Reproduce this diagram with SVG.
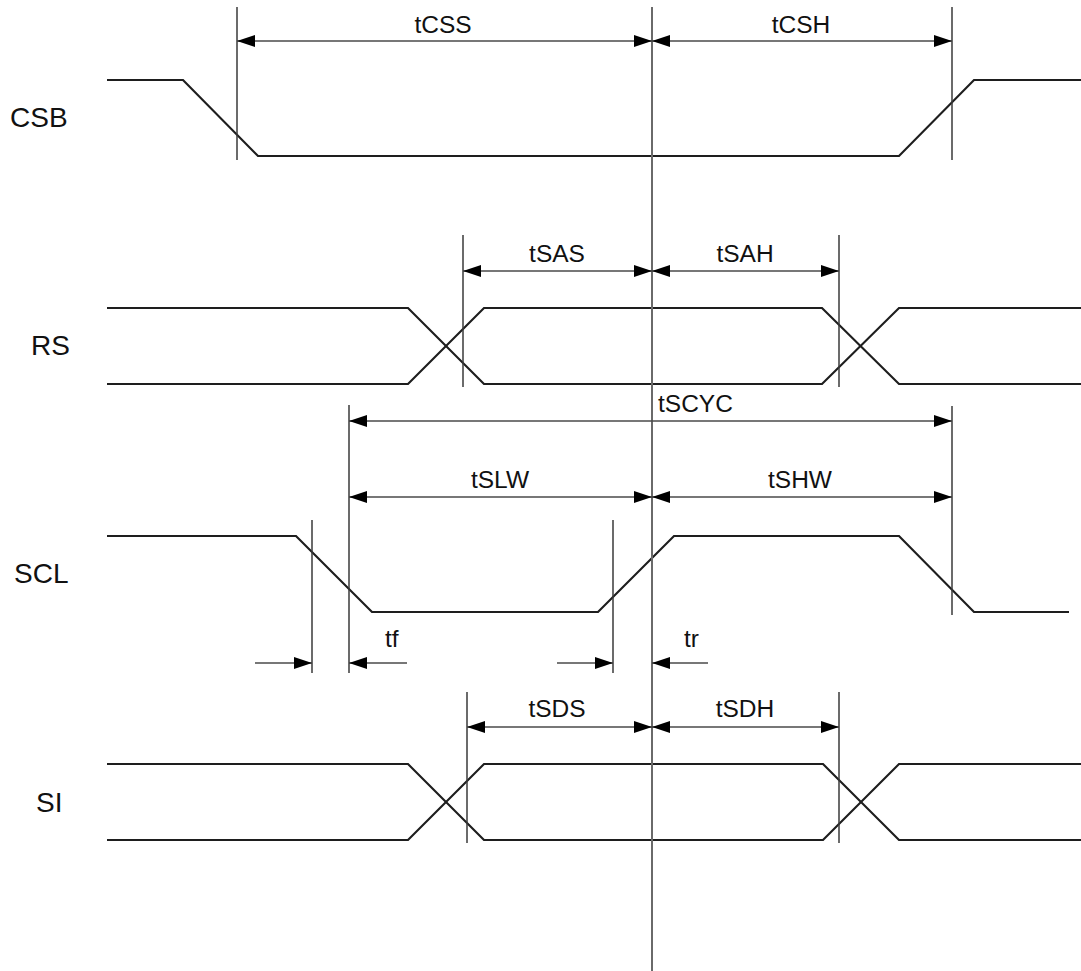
<svg xmlns="http://www.w3.org/2000/svg" width="1081" height="971" viewBox="0 0 1081 971">
<style>
.sig{fill:none;stroke:#1e1e1e;stroke-width:2.2;stroke-linejoin:miter}
.ref{fill:none;stroke:#3a3a3a;stroke-width:1.5}
.dim{fill:none;stroke:#4a4a4a;stroke-width:1.6}
.ctr{fill:none;stroke:#6a6a6a;stroke-width:2}
.lbl{font-family:"Liberation Sans",Arial,sans-serif;font-size:28px;fill:#111}
.tl{font-family:"Liberation Sans",Arial,sans-serif;font-size:24.5px;fill:#111;text-anchor:middle}
.ts{font-family:"Liberation Sans",Arial,sans-serif;font-size:24.5px;fill:#111}
</style>
<defs>
<marker id="ah" viewBox="0 0 18 12" refX="18" refY="6" markerWidth="18" markerHeight="12" markerUnits="userSpaceOnUse" orient="auto-start-reverse">
<path d="M0,0 L18,6 L0,12 Z" fill="#000"/>
</marker>
</defs>
<rect width="1081" height="971" fill="#fff"/>

<g id="CSB">
<text class="lbl" x="10" y="127">CSB</text>
<path class="sig" d="M107,80 H183 L258,156 H899 L974,80 H1081"/>
</g>

<g id="RS">
<text class="lbl" x="31" y="355">RS</text>
<path class="sig" d="M107,308 H408 L484,384 H822 L899,308 H1081"/>
<path class="sig" d="M107,384 H408 L484,308 H822 L899,384 H1081"/>
</g>

<g id="SCL">
<text class="lbl" x="14" y="583">SCL</text>
<path class="sig" d="M107,536 H296 L372,612 H598 L674,536 H899 L974,612 H1069"/>
</g>

<g id="SI">
<text class="lbl" x="36" y="812">SI</text>
<path class="sig" d="M107,764 H408 L484,840 H823 L899,764 H1081"/>
<path class="sig" d="M107,840 H408 L484,764 H823 L899,840 H1081"/>
</g>

<g id="connectors">
<line class="ctr" x1="652" y1="7" x2="652" y2="971"/>
<!-- reference verticals -->
<line class="ref" x1="237" y1="7" x2="237" y2="160"/>
<line class="ref" x1="952" y1="7" x2="952" y2="160"/>
<line class="ref" x1="463" y1="235" x2="463" y2="387"/>
<line class="ref" x1="839" y1="235" x2="839" y2="387"/>
<line class="ref" x1="349" y1="405" x2="349" y2="673"/>
<line class="ref" x1="952" y1="406" x2="952" y2="615"/>
<line class="ref" x1="312" y1="520" x2="312" y2="673"/>
<line class="ref" x1="613" y1="520" x2="613" y2="673"/>
<line class="ref" x1="467" y1="692" x2="467" y2="843"/>
<line class="ref" x1="839" y1="692" x2="839" y2="843"/>
<!-- dimension arrows -->
<line class="dim" x1="237" y1="41" x2="652" y2="41" marker-start="url(#ah)" marker-end="url(#ah)"/>
<line class="dim" x1="652" y1="41" x2="952" y2="41" marker-start="url(#ah)" marker-end="url(#ah)"/>
<line class="dim" x1="463" y1="271" x2="652" y2="271" marker-start="url(#ah)" marker-end="url(#ah)"/>
<line class="dim" x1="652" y1="271" x2="839" y2="271" marker-start="url(#ah)" marker-end="url(#ah)"/>
<line class="dim" x1="349" y1="421" x2="952" y2="421" marker-start="url(#ah)" marker-end="url(#ah)"/>
<line class="dim" x1="349" y1="497" x2="652" y2="497" marker-start="url(#ah)" marker-end="url(#ah)"/>
<line class="dim" x1="652" y1="497" x2="952" y2="497" marker-start="url(#ah)" marker-end="url(#ah)"/>
<line class="dim" x1="255" y1="663" x2="312" y2="663" marker-end="url(#ah)"/>
<line class="dim" x1="407" y1="663" x2="349" y2="663" marker-end="url(#ah)"/>
<line class="dim" x1="557" y1="663" x2="613" y2="663" marker-end="url(#ah)"/>
<line class="dim" x1="708" y1="663" x2="652" y2="663" marker-end="url(#ah)"/>
<line class="dim" x1="467" y1="727" x2="652" y2="727" marker-start="url(#ah)" marker-end="url(#ah)"/>
<line class="dim" x1="652" y1="727" x2="839" y2="727" marker-start="url(#ah)" marker-end="url(#ah)"/>
</g>

<g id="labels">
<text class="tl" x="443" y="33">tCSS</text>
<text class="tl" x="801" y="33">tCSH</text>
<text class="tl" x="557" y="262">tSAS</text>
<text class="tl" x="745" y="262">tSAH</text>
<text class="ts" x="658" y="412">tSCYC</text>
<text class="tl" x="500" y="488">tSLW</text>
<text class="tl" x="800" y="488">tSHW</text>
<text class="ts" x="385" y="647">tf</text>
<text class="ts" x="684" y="647">tr</text>
<text class="tl" x="557" y="717">tSDS</text>
<text class="tl" x="745" y="717">tSDH</text>
</g>
</svg>
